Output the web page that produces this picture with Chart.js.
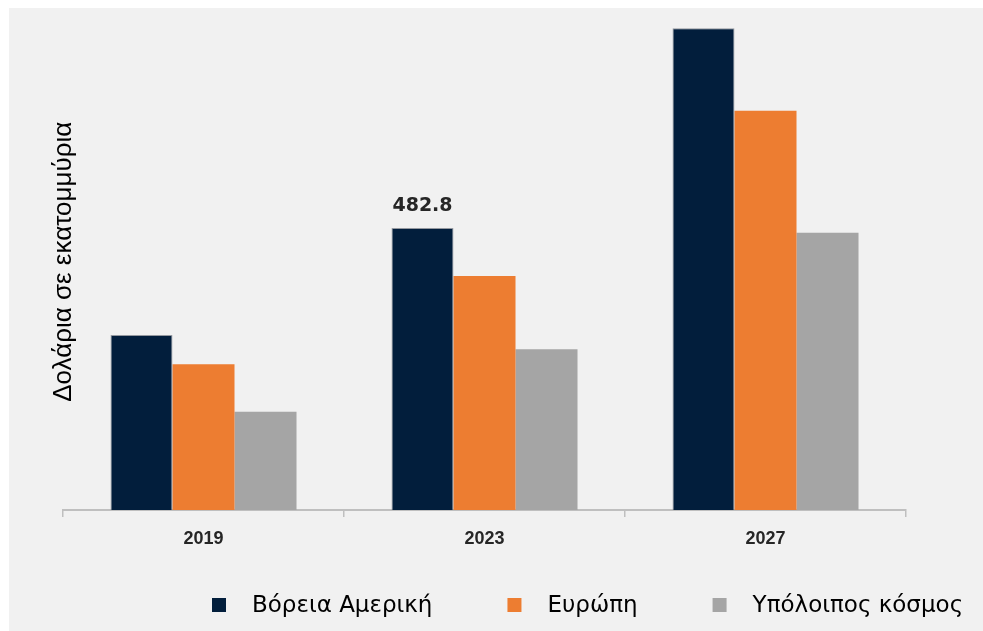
<!DOCTYPE html>
<html>
<head>
<meta charset="utf-8">
<script src="https://cdn.jsdelivr.net/npm/chart.js@4/dist/chart.umd.min.js"></script>
<style>
  html, body { margin: 0; padding: 0; background: #ffffff; }
  canvas { display: block; }
</style>
</head>
<body>
<canvas id="c" width="983" height="631"></canvas>
<script>
// ---- data ----
const years = ['2019', '2023', '2027'];
const northAmerica = [299.6, 482.8, 824.7];
const europe = [249.4, 400.6, 683.6];
const restOfWorld = [168.3, 275.1, 474.7];
const seriesNames = ['Βόρεια Αμερική', 'Ευρώπη', 'Υπόλοιπος κόσμος'];
const yAxisTitle = 'Δολάρια σε εκατομμύρια';
const annotatedPoints = [{ series: 0, index: 1, text: '482.8' }];
const yMax = 850;

const colors = ['#021e3c', '#ed7d31', '#a5a5a5'];

const backgroundPlugin = {
  id: 'bg',
  beforeDraw(chart) {
    const ctx = chart.ctx;
    ctx.save();
    ctx.fillStyle = '#ffffff';
    ctx.fillRect(0, 0, chart.width, chart.height);
    ctx.fillStyle = '#f1f1f1';
    ctx.fillRect(9, 8, chart.width - 9, chart.height - 8);
    ctx.restore();
  }
};

const annotatePlugin = {
  id: 'annot',
  afterDatasetsDraw(chart) {
    const ctx = chart.ctx;
    ctx.save();
    ctx.font = 'bold 19px "DejaVu Sans"';
    ctx.fillStyle = '#262626';
    ctx.textAlign = 'center';
    ctx.textBaseline = 'alphabetic';
    annotatedPoints.forEach(p => {
      const bar = chart.getDatasetMeta(p.series).data[p.index];
      ctx.fillText(p.text, bar.x, bar.y - 17);
    });
    ctx.restore();
  }
};

const legendPlugin = {
  id: 'customLegend',
  afterDraw(chart) {
    const ctx = chart.ctx;
    ctx.save();
    ctx.font = '23px "DejaVu Sans"';
    ctx.textBaseline = 'alphabetic';
    let x = 212;
    const boxTop = 598, box = 14, textGap = 40, itemGap = 75, baseline = 612;
    chart.data.datasets.forEach(ds => {
      ctx.fillStyle = ds.backgroundColor;
      ctx.fillRect(x, boxTop, box, box);
      ctx.fillStyle = '#000000';
      ctx.textAlign = 'left';
      ctx.fillText(ds.label, x + textGap, baseline);
      x += textGap + ctx.measureText(ds.label).width + itemGap;
    });
    ctx.restore();
  }
};

new Chart(document.getElementById('c'), {
  type: 'bar',
  data: {
    labels: years,
    datasets: [
      { label: seriesNames[0], data: northAmerica, backgroundColor: colors[0], borderColor: 'rgba(110,115,125,0.7)', borderWidth: 1 },
      { label: seriesNames[1], data: europe, backgroundColor: colors[1] },
      { label: seriesNames[2], data: restOfWorld, backgroundColor: colors[2] }
    ]
  },
  options: {
    responsive: false,
    animation: false,
    devicePixelRatio: 1,
    layout: { padding: { left: 0, right: 77, top: 13.5, bottom: 0 } },
    datasets: { bar: { categoryPercentage: 0.662, barPercentage: 1.0 } },
    plugins: {
      legend: { display: false },
      tooltip: { enabled: false },
      title: { display: false }
    },
    scales: {
      x: {
        afterFit(s) { s.height = 121; },
        grid: { display: true, drawOnChartArea: false, offset: true, color: '#bfbfbf', lineWidth: 1.5, tickLength: 7 },
        border: { display: true, color: '#bfbfbf', width: 2 },
        ticks: { color: '#262626', font: { family: '"Liberation Sans"', size: 18, weight: 'bold' }, padding: 11 }
      },
      y: {
        min: 0,
        max: yMax,
        afterFit(s) { s.width = 63; },
        grid: { display: false },
        border: { display: false },
        ticks: { display: false },
        title: {
          display: true,
          text: yAxisTitle,
          color: '#000000',
          font: { family: '"Liberation Sans"', size: 26 },
          padding: { top: 48, bottom: 0 }
        }
      }
    }
  },
  plugins: [backgroundPlugin, annotatePlugin, legendPlugin]
});
</script>
</body>
</html>
